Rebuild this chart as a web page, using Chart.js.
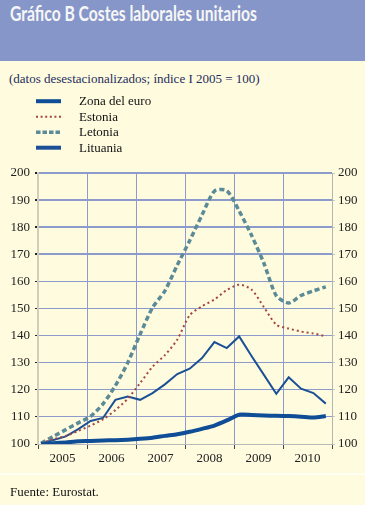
<!DOCTYPE html>
<html>
<head>
<meta charset="utf-8">
<script src="https://cdn.jsdelivr.net/npm/chart.js@4.4.0/dist/chart.umd.min.js"></script>
<style>
    html, body { margin: 0; padding: 0; }
    body { width: 365px; height: 505px; background: #fffbdf; position: relative; overflow: hidden; }
    #banner { position: absolute; left: 0; top: 0; width: 365px; height: 61px; background: #8696c8; }
    #title { position: absolute; left: 10px; top: 1px; font-family: Lato, sans-serif; font-weight: 700; font-size: 20px; color: #f6f6f6; white-space: nowrap; transform-origin: 0 0; }
    #subtitle { position: absolute; left: 9px; top: 71px; font-family: "Liberation Serif", serif; font-size: 13px; color: #1d2d5c; white-space: nowrap; }
    #chart-box { position: absolute; left: 0; top: 90px; width: 365px; height: 384px; }
    #rule { position: absolute; left: 0; top: 473px; width: 365px; height: 2px; background: #fffff2; }
    #source { position: absolute; left: 10px; top: 484px; font-family: "Liberation Serif", serif; font-size: 13px; color: #111; white-space: nowrap; }
</style>
</head>
<body>
<div id="banner"><div id="title">Gráfico B Costes laborales unitarios</div></div>
<div id="subtitle">(datos desestacionalizados; índice I 2005 = 100)</div>
<div id="chart-box"><canvas id="chart" width="365" height="384"></canvas></div>
<div id="rule"></div>
<div id="source">Fuente: Eurostat.</div>
<script>
// quarterly data, 2005 T1 .. 2010 T4
const years = ["2005", "2006", "2007", "2008", "2009", "2010"];
const seriesNames = ["Zona del euro", "Estonia", "Letonia", "Lituania"];

const zonaEuro = [100, 100.3, 100.6, 101, 101.1, 101.3, 101.4, 101.6, 101.9, 102.3, 103, 103.6,
    104.5, 105.6, 106.8, 108.7, 110.8, 110.7, 110.5, 110.4, 110.3, 110.1, 109.8, 110.3];
const estonia = [100.3, 101.8, 103, 104.8, 106.8, 109.1, 112.5, 116.7, 122.5, 128.5, 132.8, 138.5,
    147.5, 150.8, 153.3, 156.8, 158.8, 157, 150.5, 144, 142.6, 141.5, 140.8, 139.7];
const letonia = [100.3, 102.8, 105.3, 107.8, 110.2, 114.8, 121.5, 130, 140.5, 150.3, 156.5, 166,
    175, 184.5, 193.3, 193.5, 186, 177, 166.7, 154.7, 152, 154.8, 156.5, 158];
const lituania = [100.3, 101.5, 102.8, 105.5, 108.5, 109.6, 116.3, 117.5, 116.3, 118.8, 122, 125.8,
    127.8, 131.7, 137.6, 135.4, 139.7, 132.5, 125.5, 118.5, 124.6, 120.4, 118.8, 114.9];

const yTicks = [100, 110, 120, 130, 140, 150, 160, 170, 180, 190, 200];

(function () {
    const title = document.getElementById("title");
    const w = title.getBoundingClientRect().width;
    if (w > 0) {
        title.style.transform = "scaleX(" + (247 / w) + ")";
    }
})();

const gridColor = "#8c9bcb";
const serif = "'Liberation Serif', serif";
const xMin = -0.25;
const xMax = 23.5;
const yearSpan = (xMax - xMin) / years.length;

function toPoints(values) {
    return values.map(function (v, i) {
        return { x: i, y: v };
    });
}

// year boundaries (even ticks) and year middles (odd ticks, labelled)
function buildYearTicks(scale) {
    const ticks = [];
    for (let k = 0; k <= years.length; k++) {
        ticks.push({ value: xMin + k * yearSpan });
        if (k < years.length) {
            ticks.push({ value: xMin + (k + 0.5) * yearSpan });
        }
    }
    scale.ticks = ticks;
}

const legendPlugin = {
    id: "sideLegend",
    afterDraw: function (chart) {
        const ctx = chart.ctx;
        chart.data.datasets.forEach(function (ds, i) {
            const y = 11.2 + i * 15.5;
            ctx.save();
            ctx.strokeStyle = ds.borderColor;
            ctx.lineWidth = ds.legendWidth;
            ctx.setLineDash(ds.legendDash || []);
            ctx.beginPath();
            ctx.moveTo(36, y);
            ctx.lineTo(61, y);
            ctx.stroke();
            ctx.setLineDash([]);
            ctx.fillStyle = "#111";
            ctx.font = "13px " + serif;
            ctx.textBaseline = "middle";
            ctx.fillText(ds.label, 79, y + 0.5);
            ctx.restore();
        });
    }
};

new Chart(document.getElementById("chart").getContext("2d"), {
    type: "line",
    data: {
        datasets: [
            {
                label: seriesNames[0],
                data: toPoints(zonaEuro),
                borderColor: "#0f4e96",
                borderWidth: 4,
                legendWidth: 4,
                tension: 0.2
            },
            {
                label: seriesNames[1],
                data: toPoints(estonia),
                borderColor: "#a4463e",
                borderWidth: 2,
                borderDash: [2, 3],
                legendWidth: 2,
                legendDash: [2, 2.6],
                tension: 0.25
            },
            {
                label: seriesNames[2],
                data: toPoints(letonia),
                borderColor: "#5a8b97",
                borderWidth: 3.5,
                borderDash: [5, 3],
                legendWidth: 3.5,
                legendDash: [4.5, 2],
                tension: 0.25
            },
            {
                label: seriesNames[3],
                data: toPoints(lituania),
                borderColor: "#1b5096",
                borderWidth: 2,
                legendWidth: 4,
                tension: 0
            }
        ]
    },
    options: {
        responsive: false,
        animation: false,
        events: [],
        elements: { point: { radius: 0 } },
        layout: { padding: { top: 83, left: 0, right: 0, bottom: 0 } },
        plugins: {
            legend: { display: false },
            tooltip: { enabled: false }
        },
        scales: {
            x: {
                type: "linear",
                min: xMin,
                max: xMax,
                afterBuildTicks: buildYearTicks,
                afterFit: function (scale) { scale.height = 30; },
                ticks: {
                    autoSkip: false,
                    maxRotation: 0,
                    padding: 2,
                    color: "#222",
                    font: { family: serif, size: 13 },
                    callback: function (value, index) {
                        return index % 2 === 1 ? years[(index - 1) / 2] : "";
                    }
                },
                grid: {
                    color: function (ctx) {
                        const last = years.length * 2;
                        return (ctx.index % 2 === 0 && ctx.index > 0 && ctx.index < last) ? gridColor : "transparent";
                    },
                    tickColor: function (ctx) {
                        return ctx.index % 2 === 0 ? "#444" : "transparent";
                    },
                    tickLength: 5,
                    lineWidth: 1
                },
                border: { color: "#b9b9b9", width: 1 }
            },
            y: {
                position: "left",
                min: 100,
                max: 200,
                afterBuildTicks: function (scale) {
                    scale.ticks = yTicks.map(function (v) { return { value: v }; });
                },
                afterFit: function (scale) { scale.width = 38; },
                ticks: { color: "#222", padding: 5, font: { family: serif, size: 13 } },
                grid: {
                    color: function (ctx) {
                        return ctx.tick && ctx.tick.value === 100 ? "transparent" : gridColor;
                    },
                    lineWidth: function (ctx) {
                        return ctx.tick && ctx.tick.value >= 170 ? 2 : 1;
                    },
                    tickColor: "#222",
                    tickLength: 3
                },
                border: { color: "#d2cdb8", width: 2 }
            },
            y2: {
                position: "right",
                min: 100,
                max: 200,
                afterBuildTicks: function (scale) {
                    scale.ticks = yTicks.map(function (v) { return { value: v }; });
                },
                afterFit: function (scale) { scale.width = 33; },
                ticks: { color: "#222", padding: 3, font: { family: serif, size: 13 } },
                grid: { drawOnChartArea: false, tickColor: "#c8c8c8", tickLength: 3 },
                border: { color: "#b5b5b5", width: 1 }
            }
        }
    },
    plugins: [legendPlugin]
});
</script>
</body>
</html>
